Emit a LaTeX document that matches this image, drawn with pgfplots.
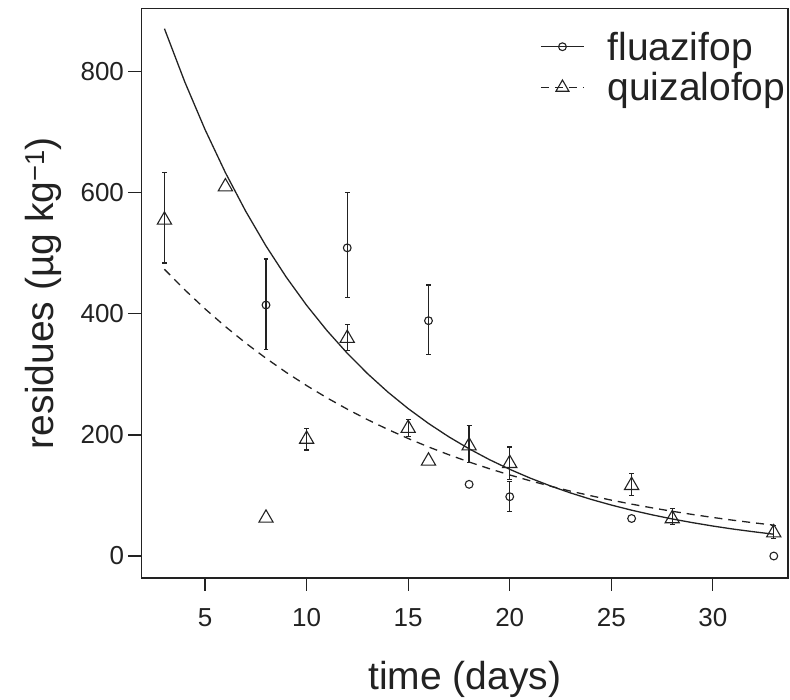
\documentclass[border=0pt]{standalone}
\usepackage{fontspec}
\setmainfont{Liberation Sans}
\usepackage{pgfplots}
\pgfplotsset{compat=1.18}
\definecolor{ink}{HTML}{222222}
\begin{document}
\begin{tikzpicture}
\begin{axis}[
  at={(0,0)}, anchor=south west,
  scale only axis, width=646.5pt, height=569.7pt,
  xmin=1.87, xmax=33.7, ymin=-36.3, ymax=904.7,
  axis line style={line width=1.3pt, ink},
  tick style={line width=1.2pt, ink},
  tick align=outside, major tick length=13pt,
  tick pos=left,
  xtick={5,10,...,30}, ytick={0,200,...,800},
  /pgf/number format/assume math mode=true,
  tick label style={font=\fontsize{26}{30}\selectfont, text=ink},
  xticklabel style={yshift=-14pt},
  yticklabel style={xshift=-1pt},
  xlabel={time (days)},
  ylabel={residues (µg kg\textsuperscript{−1})},
  label style={font=\fontsize{39}{44}\selectfont, text=ink},
  xlabel style={at={(axis description cs:0.5,-0.196)}, anchor=base},
  ylabel style={at={(axis description cs:-0.136,0.5)}, anchor=base},
  legend cell align=left,
  legend style={draw=none, fill=none, font=\fontsize{39}{41}\selectfont, text=ink,
    at={(axis description cs:0.612,0.966)}, anchor=north west, row sep=7pt},
  legend image code/.code={\draw[mark repeat=2,mark phase=2,#1] plot coordinates {(0pt,0pt) (21.5pt,0pt) (43pt,0pt)};\path (64pt,0pt);},
]
\addlegendimage{ink, line width=1.2pt, mark=o, mark size=3.9pt, mark options={solid, line width=1.1pt}}
\addlegendentry{fluazifop}
\addlegendimage{ink, line width=1.2pt, dash pattern=on 8pt off 6pt, mark=triangle, mark size=7.5pt, mark options={solid, line width=1.1pt}}
\addlegendentry{quizalofop}

% fitted curve, fluazifop (solid)
\addplot[forget plot, ink, line width=1.3pt] coordinates {
(3,871) (4,783.2) (5,704.3) (6,633.3) (7,569.5) (8,512.1) (9,460.5) (10,414.1)
(11,372.4) (12,334.9) (13,301.2) (14,270.8) (15,243.5) (16,219.0) (17,196.9)
(18,177.1) (19,159.2) (20,143.2) (21,128.8) (22,115.8) (23,104.1) (24,93.6)
(25,84.2) (26,75.7) (27,68.1) (28,61.2) (29,55.1) (30,49.5) (31,44.5) (32,40.1) (33,36.0)};
% fitted curve, quizalofop (dashed)
\addplot[forget plot, ink, line width=1.3pt, dash pattern=on 8pt off 6pt] coordinates {
(3,473.6) (4,439.7) (5,408.2) (6,379.0) (7,351.8) (8,326.6) (9,303.2) (10,281.5)
(11,261.3) (12,242.6) (13,225.2) (14,209.1) (15,194.1) (16,180.2) (17,167.3)
(18,155.3) (19,144.2) (20,133.9) (21,124.3) (22,115.4) (23,107.1) (24,99.5)
(25,92.3) (26,85.7) (27,79.6) (28,73.9) (29,68.6) (30,63.7) (31,59.1) (32,54.9) (33,51.0)};

% fluazifop with error bars
\addplot[forget plot, only marks, ink, mark=o, mark size=3.9pt, mark options={line width=1.1pt},
  error bars/.cd, y dir=both, y explicit,
  error bar style={line width=1.3pt, ink},
  error mark options={line width=1.2pt, mark size=2.4pt, rotate=90}]
  table[x=x, y=y, y error plus=ep, y error minus=em] {
x y ep em
8 414.6 76 73
12 509 92 82
16 388.7 59 56
20 98 25 25
};
% fluazifop without error bars
\addplot[forget plot, only marks, ink, mark=o, mark size=3.9pt, mark options={line width=1.1pt}]
  table[x=x, y=y] {
x y
18 118.4
26 62
33 0
};
% quizalofop with error bars
\addplot[forget plot, only marks, ink, mark=triangle, mark size=8.2pt, mark options={line width=1.1pt},
  error bars/.cd, y dir=both, y explicit,
  error bar style={line width=1.3pt, ink},
  error mark options={line width=1.2pt, mark size=2.4pt, rotate=90}]
  table[x=x, y=y, y error plus=ep, y error minus=em] {
x y ep em
3 555 79 71
10 193 18 18
12 359.6 23 20
15 211 14 14
18 182 33 27
20 153 27 26
26 116.7 19 17
28 61.7 17 10
33 38.5 12 10
};
% quizalofop without error bars
\addplot[forget plot, only marks, ink, mark=triangle, mark size=8.2pt, mark options={line width=1.1pt}]
  table[x=x, y=y] {
x y
6 610
8 62.7
16 157
};
\end{axis}
\pgfresetboundingbox
\path (-141.5pt,-122pt) rectangle (648.5pt,578pt);
\end{tikzpicture}
\end{document}
